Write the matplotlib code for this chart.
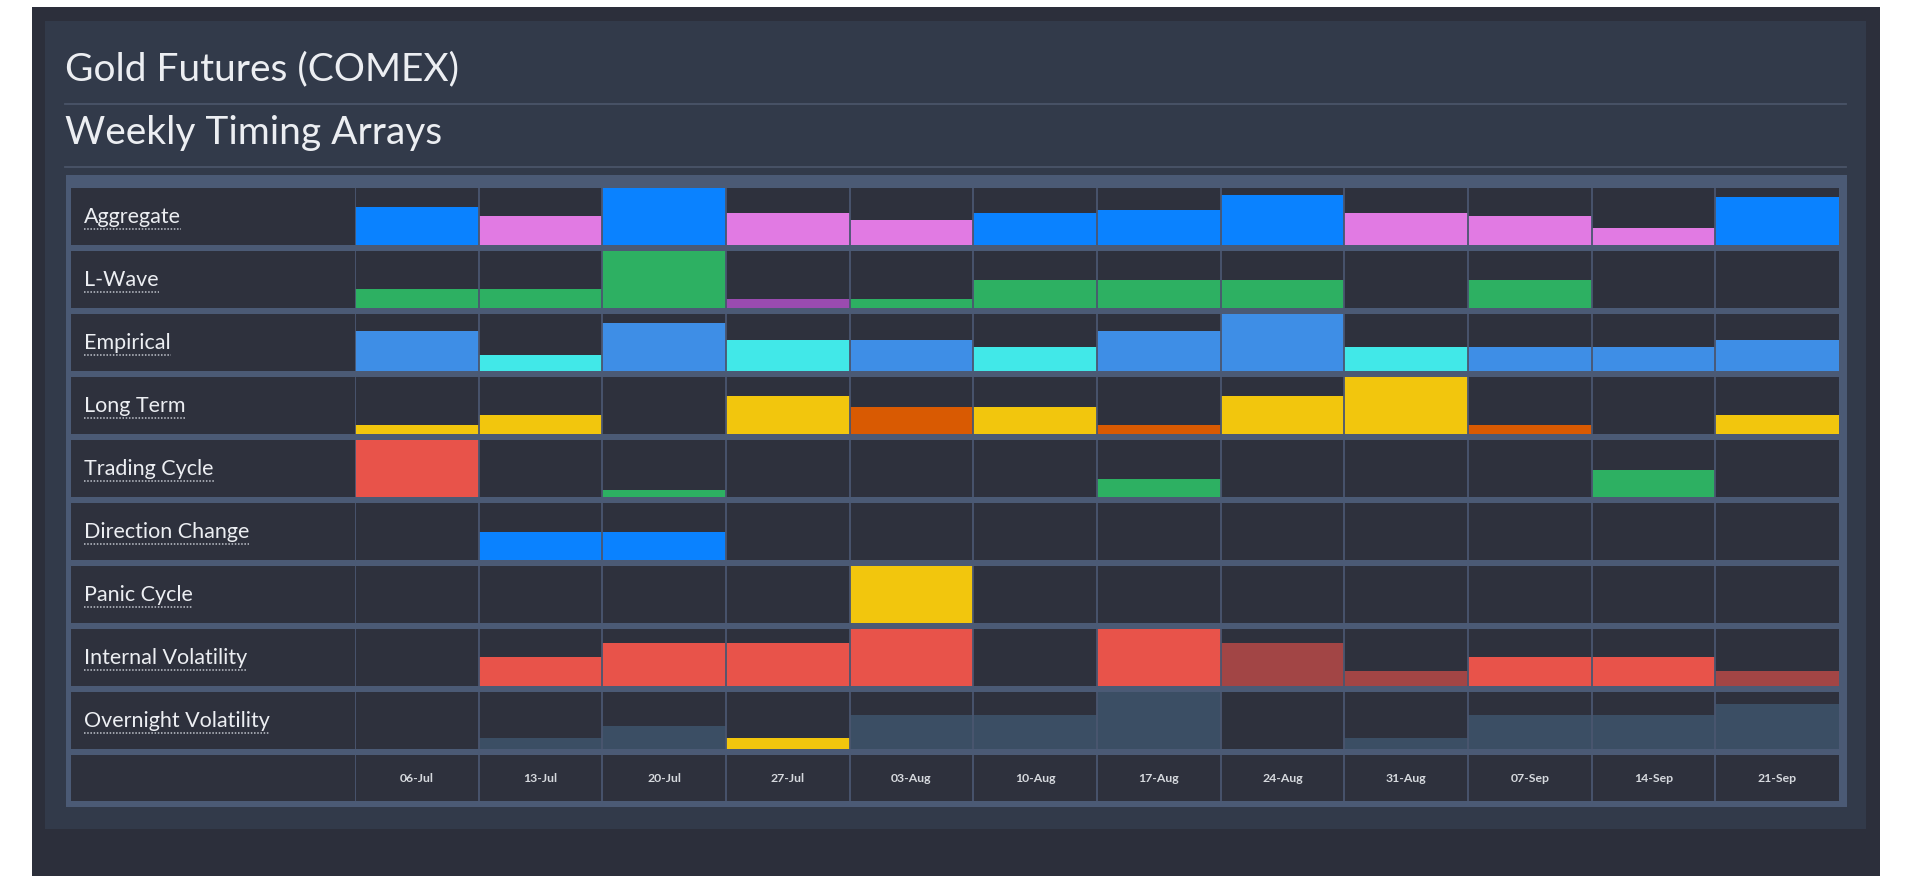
"""Weekly timing arrays grid for Gold Futures (COMEX)."""
import matplotlib
matplotlib.use("Agg")
import matplotlib.pyplot as plt
from matplotlib.patches import Rectangle
from matplotlib.lines import Line2D

# ---- data -------------------------------------------------------------
weeks = ["06-Jul", "13-Jul", "20-Jul", "27-Jul", "03-Aug", "10-Aug",
         "17-Aug", "24-Aug", "31-Aug", "07-Sep", "14-Sep", "21-Sep"]

arrays = ["Aggregate", "L-Wave", "Empirical", "Long Term", "Trading Cycle",
          "Direction Change", "Panic Cycle", "Internal Volatility",
          "Overnight Volatility"]

aggregate = [0.665, 0.51, 1.0, 0.56, 0.445, 0.56, 0.62, 0.885, 0.56, 0.51, 0.295, 0.84]
aggregate_kind = "ABABBAAABBBA"
l_wave = [0.33, 0.33, 1.0, 0.155, 0.155, 0.49, 0.49, 0.49, 0, 0.49, 0, 0]
l_wave_kind = "AAABAAAAAAAA"
empirical = [0.71, 0.285, 0.845, 0.55, 0.55, 0.42, 0.71, 1.0, 0.42, 0.42, 0.42, 0.55]
empirical_kind = "ABABABAABAAA"
long_term = [0.15, 0.33, 0, 0.665, 0.48, 0.48, 0.15, 0.665, 1.0, 0.15, 0, 0.33]
long_term_kind = "AAAABABAABAA"
trading_cycle = [1.0, 0, 0.13, 0, 0, 0, 0.31, 0, 0, 0, 0.465, 0]
trading_cycle_kind = "BAAAAAAAAAAA"
direction_change = [0, 0.5, 0.5, 0, 0, 0, 0, 0, 0, 0, 0, 0]
direction_change_kind = "AAAAAAAAAAAA"
panic_cycle = [0, 0, 0, 0, 1.0, 0, 0, 0, 0, 0, 0, 0]
panic_cycle_kind = "AAAAAAAAAAAA"
internal_vol = [0, 0.51, 0.76, 0.76, 1.0, 0, 1.0, 0.76, 0.27, 0.51, 0.51, 0.27]
internal_vol_kind = "AAAAAAABBAAB"
overnight_vol = [0, 0.2, 0.41, 0.2, 0.6, 0.6, 1.0, 0, 0.2, 0.6, 0.6, 0.79]
overnight_vol_kind = "AAABAAAAAAAA"

# ---- style ------------------------------------------------------------
BLUE, PINK = "#0a82ff", "#e17ae3"
GREEN, PURPLE = "#2db062", "#9a4bb0"
EBLUE, CYAN = "#3e8ee6", "#41e8e8"
YELLOW, ORANGE = "#f2c60d", "#d95a02"
RED, DARKRED = "#e8534a", "#a24545"
SLATE = "#3b4e64"

palettes = [
    {"A": BLUE, "B": PINK},
    {"A": GREEN, "B": PURPLE},
    {"A": EBLUE, "B": CYAN},
    {"A": YELLOW, "B": ORANGE},
    {"A": GREEN, "B": RED},
    {"A": BLUE},
    {"A": YELLOW},
    {"A": RED, "B": DARKRED},
    {"A": SLATE, "B": YELLOW},
]
series = [(aggregate, aggregate_kind), (l_wave, l_wave_kind),
          (empirical, empirical_kind), (long_term, long_term_kind),
          (trading_cycle, trading_cycle_kind),
          (direction_change, direction_change_kind),
          (panic_cycle, panic_cycle_kind),
          (internal_vol, internal_vol_kind),
          (overnight_vol, overnight_vol_kind)]

OUTER = "#2c2f3b"
PANEL = "#323a4a"
FRAME = "#4b5a75"
CELL = "#2e313d"
SEP = "#4a5670"
TEXT = "#eceef2"
FONT = ["Lato", "DejaVu Sans"]

W, H = 1920, 876


def box(x0, y0, x1, y1):
    """pixel box (top-left origin) -> figure rect"""
    return [x0 / W, 1 - y1 / H, (x1 - x0) / W, (y1 - y0) / H]


def bg(fig, x0, y0, x1, y1, color, z):
    l, b, w, h = box(x0, y0, x1, y1)
    fig.patches.append(Rectangle((l, b), w, h, transform=fig.transFigure,
                                 facecolor=color, edgecolor="none", zorder=z))


fig = plt.figure(figsize=(W / 100, H / 100), dpi=100, facecolor="white")
bg(fig, 32, 7, 1880, 876, OUTER, -10)
bg(fig, 45, 21, 1866, 829, PANEL, -9)
bg(fig, 66, 175, 1847, 807, FRAME, -8)

fig.text(65 / W, 1 - 80 / H, "Gold Futures (COMEX)", fontsize=28,
         family=FONT, color=TEXT, va="baseline")
fig.text(65 / W, 1 - 144 / H, "Weekly Timing Arrays", fontsize=28,
         family=FONT, color=TEXT, va="baseline")
for yy in (104, 167):
    fig.lines.append(Line2D([65 / W, 1846 / W], [1 - yy / H, 1 - yy / H],
                            transform=fig.transFigure, color="#4a5468", lw=1.3))

LAB_X0, COL_X0, COL_X1 = 71, 355, 1839
ROW_TOP, PITCH, CELL_H = 188, 63, 57

label_texts = []
for i, (name, (vals, kinds)) in enumerate(zip(arrays, series)):
    top = ROW_TOP + i * PITCH
    lax = fig.add_axes(box(LAB_X0, top, COL_X0, top + CELL_H))
    lax.set_facecolor(CELL)
    lax.set_axis_off()
    lax.add_patch(Rectangle((0, 0), 1, 1, transform=lax.transAxes,
                            facecolor=CELL, edgecolor="none", zorder=0))
    t = lax.text((84 - LAB_X0) / (COL_X0 - LAB_X0), 22 / CELL_H, name,
                 fontsize=15.5, family=FONT, color=TEXT, va="baseline",
                 transform=lax.transAxes)
    label_texts.append((lax, t))

    ax = fig.add_axes(box(COL_X0, top, COL_X1, top + CELL_H))
    ax.set_facecolor(CELL)
    colors = [palettes[i][k] for k in kinds]
    ax.bar(range(len(weeks)), vals, width=1.0, color=colors, linewidth=0)
    ax.set_xlim(-0.5, len(weeks) - 0.5)
    ax.set_ylim(0, 1)
    for k in range(len(weeks)):
        ax.axvline(k - 0.5, color=SEP, lw=1.3, zorder=3)
    ax.set_xticks([])
    ax.set_yticks([])
    for s in ax.spines.values():
        s.set_visible(False)

# date row
top = ROW_TOP + len(arrays) * PITCH
lax = fig.add_axes(box(LAB_X0, top, COL_X0, 801))
lax.set_facecolor(CELL)
lax.set_xticks([])
lax.set_yticks([])
for s in lax.spines.values():
    s.set_visible(False)
dax = fig.add_axes(box(COL_X0, top, COL_X1, 801))
dax.set_facecolor(CELL)
dax.set_xlim(-0.5, len(weeks) - 0.5)
dax.set_ylim(0, 1)
for k, wk in enumerate(weeks):
    dax.axvline(k - 0.5, color=SEP, lw=1.3, zorder=3)
    dax.text(k, 0.5, wk, ha="center", va="center", fontsize=8.8,
             family=FONT, fontweight="bold", color="#d6d9de")
dax.set_xticks([])
dax.set_yticks([])
for s in dax.spines.values():
    s.set_visible(False)

# dotted underline under each array label
fig.canvas.draw()
renderer = fig.canvas.get_renderer()
for lax, t in label_texts:
    bb = t.get_window_extent(renderer).transformed(lax.transAxes.inverted())
    lax.add_line(Line2D([bb.x0, bb.x1], [16 / CELL_H, 16 / CELL_H],
                        transform=lax.transAxes, color="#c0c4cc",
                        lw=1.1, ls=(0, (1, 1.1))))

fig.savefig("out.png", dpi=100, facecolor=fig.get_facecolor())
